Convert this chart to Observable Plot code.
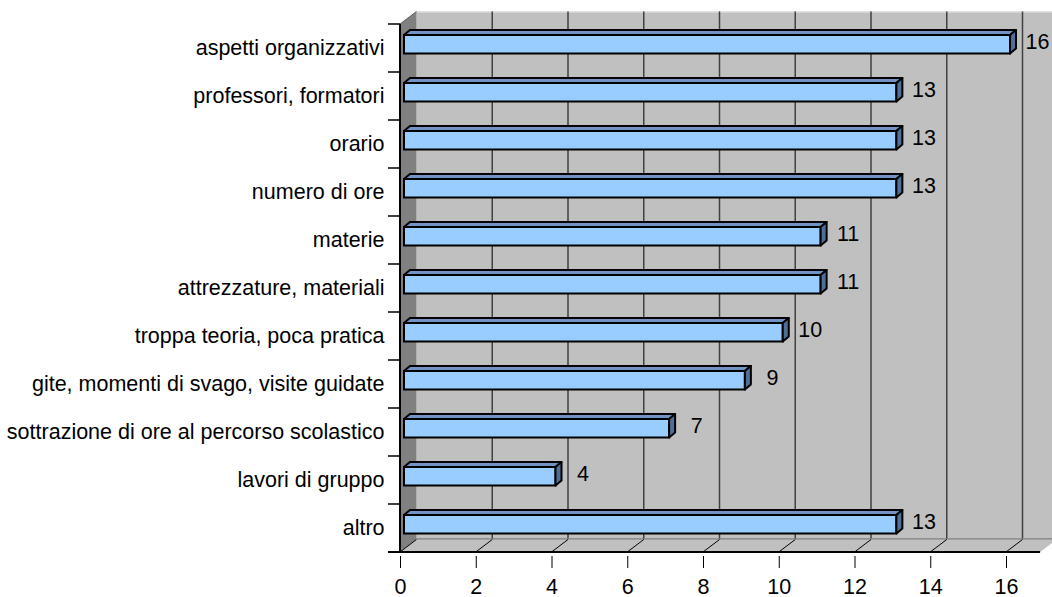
<!DOCTYPE html>
<html>
<head>
<meta charset="utf-8">
<script src="https://cdn.jsdelivr.net/npm/d3@7"></script>
<script src="https://cdn.jsdelivr.net/npm/@observablehq/plot@0.6"></script>
<style>
  html, body { margin: 0; padding: 0; background: #ffffff; }
</style>
</head>
<body>
<div id="chart"></div>
<script>
const categories = [
  "aspetti organizzativi",
  "professori, formatori",
  "orario",
  "numero di ore",
  "materie",
  "attrezzature, materiali",
  "troppa teoria, poca pratica",
  "gite, momenti di svago, visite guidate",
  "sottrazione di ore al percorso scolastico",
  "lavori di gruppo",
  "altro"
];
const values = [16, 13, 13, 13, 11, 11, 10, 9, 7, 4, 13];
const xTicks = [0, 2, 4, 6, 8, 10, 12, 14, 16];
const xWallEnd = 16.9;

const data = categories.map((c, i) => ({category: c, value: values[i]}));

const FONT = "Arial, 'Liberation Sans', sans-serif";
const barDX = 4, barDY = -3.5, insetTop = 14.5, insetBottom = 15;

const plot = Plot.plot({
  width: 1052,
  height: 597,
  marginLeft: 400,
  marginRight: 46,
  marginTop: 19,
  marginBottom: 41,
  style: {fontFamily: FONT, fontSize: "21.5px", background: "transparent", overflow: "visible", color: "#000"},
  x: {domain: [0, 16], ticks: xTicks, tickSize: 12, tickPadding: 10, label: null, tickFormat: d => String(d)},
  y: {domain: categories, padding: 0, tickSize: 0, tickPadding: 16, label: null},
  marks: [
    Plot.barX(data, {
      x: "value", y: "category",
      fill: "#99ccff", stroke: "#000", strokeWidth: 2,
      insetTop, insetBottom, dx: barDX, dy: barDY
    }),
    Plot.text(data, {
      x: "value", y: "category", text: d => String(d.value),
      dx: 31, dy: -6, fontSize: 21.5, fill: "#000", textAnchor: "middle"
    })
  ]
});

document.getElementById("chart").appendChild(plot);

// scales from Plot
const sx = plot.scale("x");
const sy = plot.scale("y");
const X = sx.apply ? (v => sx.apply(v)) : d3.scaleLinear(sx.domain, sx.range);
let Y, bw;
if (sy.apply) { Y = v => sy.apply(v); bw = sy.bandwidth; }
else { const b = d3.scaleBand(sy.domain, sy.range).padding(0); Y = b; bw = b.bandwidth(); }

const svg = d3.select(plot);
const DX = 16.5, DY = -12.5;
const x0 = X(0), xEnd = X(xWallEnd);
const yTop = Y(categories[0]);
const yBot = Y(categories[categories.length - 1]) + bw;

const bg = svg.insert("g", ":first-child");
// back wall
bg.append("rect")
  .attr("x", x0 + DX).attr("y", yTop + DY)
  .attr("width", xEnd - x0).attr("height", yBot - yTop)
  .attr("fill", "#c0c0c0");
bg.append("line")
  .attr("x1", x0 + DX).attr("x2", xEnd + DX)
  .attr("y1", yTop + DY + 0.5).attr("y2", yTop + DY + 0.5)
  .attr("stroke", "#e6e6e6").attr("stroke-width", 1);
// back gridlines
xTicks.filter(t => t > 0).forEach(t => {
  bg.append("line")
    .attr("x1", X(t) + DX).attr("x2", X(t) + DX)
    .attr("y1", yTop + DY).attr("y2", yBot + DY)
    .attr("stroke", "#404040").attr("stroke-width", 1.5);
});
// back floor edge
bg.append("line")
  .attr("x1", x0 + DX).attr("x2", xEnd + DX)
  .attr("y1", yBot + DY).attr("y2", yBot + DY)
  .attr("stroke", "#808080").attr("stroke-width", 2.5);
// left wall
bg.append("polygon")
  .attr("points", [[x0, yTop], [x0 + DX, yTop + DY], [x0 + DX, yBot + DY], [x0, yBot]].map(p => p.join(",")).join(" "))
  .attr("fill", "#808080");
bg.append("line")
  .attr("x1", x0).attr("y1", yTop).attr("x2", x0 + DX).attr("y2", yTop + DY)
  .attr("stroke", "#606060").attr("stroke-width", 1);
// floor
bg.append("polygon")
  .attr("points", [[x0, yBot], [x0 + DX, yBot + DY], [xEnd + DX, yBot + DY], [xEnd, yBot]].map(p => p.join(",")).join(" "))
  .attr("fill", "#c0c0c0");
// floor diagonals
xTicks.forEach(t => {
  bg.append("line")
    .attr("x1", X(t)).attr("y1", yBot)
    .attr("x2", X(t) + DX).attr("y2", yBot + DY)
    .attr("stroke", "#000").attr("stroke-width", 1);
});
// floor front edge
bg.append("line")
  .attr("x1", x0 - 12).attr("x2", xEnd)
  .attr("y1", yBot).attr("y2", yBot)
  .attr("stroke", "#000").attr("stroke-width", 2);
// left axis line
bg.append("line")
  .attr("x1", x0).attr("x2", x0)
  .attr("y1", yTop).attr("y2", yBot)
  .attr("stroke", "#000").attr("stroke-width", 2);
// y boundary ticks
categories.forEach(c => {
  bg.append("line")
    .attr("x1", x0 - 12).attr("x2", x0)
    .attr("y1", Y(c)).attr("y2", Y(c))
    .attr("stroke", "#000").attr("stroke-width", 1.5);
});

// 3D bar faces
const fg = svg.append("g");
const bdx = 6, bdy = -5;
data.forEach(d => {
  const xl = X(0) + barDX, xv = X(d.value) + barDX;
  const top = Y(d.category) + insetTop + barDY;
  const bottom = Y(d.category) + bw - insetBottom + barDY;
  fg.append("polygon")
    .attr("points", [[xl, top], [xl + bdx, top + bdy], [xv + bdx, top + bdy], [xv, top]].map(p => p.join(",")).join(" "))
    .attr("fill", "#6f94c4").attr("stroke", "#000").attr("stroke-width", 2).attr("stroke-linejoin", "round");
  fg.append("polygon")
    .attr("points", [[xv, top], [xv + bdx, top + bdy], [xv + bdx, bottom + bdy], [xv, bottom]].map(p => p.join(",")).join(" "))
    .attr("fill", "#4f6f98").attr("stroke", "#000").attr("stroke-width", 2).attr("stroke-linejoin", "round");
});
</script>
</body>
</html>
